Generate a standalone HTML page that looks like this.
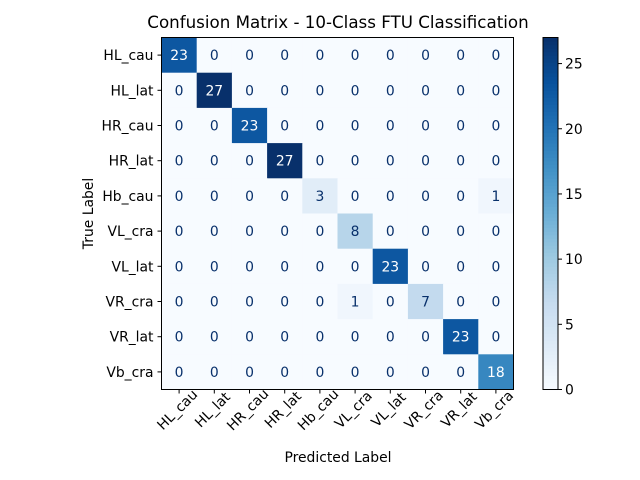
<!DOCTYPE html>
<html><head><meta charset="utf-8"><style>body{margin:0;background:#fff}svg{display:block;font-family:"DejaVu Sans","Liberation Sans",sans-serif}</style></head>
<body>
<svg id="c" width="640" height="480" xmlns="http://www.w3.org/2000/svg"></svg>
<script>
const classes = ["HL_cau","HL_lat","HR_cau","HR_lat","Hb_cau","VL_cra","VL_lat","VR_cra","VR_lat","Vb_cra"];
const matrix = [
[23,0,0,0,0,0,0,0,0,0],
[0,27,0,0,0,0,0,0,0,0],
[0,0,23,0,0,0,0,0,0,0],
[0,0,0,27,0,0,0,0,0,0],
[0,0,0,0,3,0,0,0,0,1],
[0,0,0,0,0,8,0,0,0,0],
[0,0,0,0,0,0,23,0,0,0],
[0,0,0,0,0,1,0,7,0,0],
[0,0,0,0,0,0,0,0,23,0],
[0,0,0,0,0,0,0,0,0,18]];
const cbarTicks = [0,5,10,15,20,25];
const svg = document.getElementById('c');
const NS = 'http://www.w3.org/2000/svg';
function mk(tag, attrs, parent){const e=document.createElementNS(NS,tag);for(const k in attrs)e.setAttribute(k,attrs[k]);(parent||svg).appendChild(e);return e;}
const stops=["#f7fbff","#deebf7","#c6dbef","#9ecae1","#6baed6","#4292c6","#2171b5","#08519c","#08306b"].map(h=>[1,3,5].map(i=>parseInt(h.substr(i,2),16)));
function blues(t){t=Math.max(0,Math.min(1,t));const p=t*8,i=Math.min(7,Math.floor(p)),f=p-i;const c=stops[i].map((v,k)=>Math.round(v+(stops[i+1][k]-v)*f));return `rgb(${c.join(',')})`;}
let vmax=0;matrix.forEach(r=>r.forEach(v=>{if(v>vmax)vmax=v;}));
const L=161.5,T=37.5,S=352,n=classes.length,cs=S/n;
const FS=13.9;
const xc=j=>L+(j+0.5)*cs, yc=i=>T+(i+0.5)*cs;
mk('text',{x:338,y:28,'text-anchor':'middle','font-size':16.7,fill:'#000'}).textContent='Confusion Matrix - 10-Class FTU Classification';


matrix.forEach((row,i)=>row.forEach((v,j)=>{
 const r=mk('rect',{x:L+j*cs,y:T+i*cs,width:cs+0.5,height:cs+0.5,fill:blues(v/vmax)});
 
 
 const t=mk('text',{x:xc(j),y:yc(i)+5,'text-anchor':'middle','font-size':FS,fill:v>vmax/2?'#fff':'#08306b'});
 t.textContent=v;
 
 
}));
mk('rect',{x:L,y:T,width:S,height:S,fill:'none',stroke:'#000','stroke-width':1});
classes.forEach((c,k)=>{
 mk('line',{x1:L,x2:L-4,y1:yc(k),y2:yc(k),stroke:'#000'});
 const yl=mk('text',{x:L-8,y:yc(k)+5,'text-anchor':'end','font-size':FS});yl.textContent=c;
 
 
 mk('line',{x1:xc(k),x2:xc(k),y1:T+S,y2:T+S+4,stroke:'#000'});
 const xl=mk('text',{x:0,y:5,'text-anchor':'middle','font-size':FS,transform:`translate(${xc(k)-2},${T+S+20}) rotate(-45)`});xl.textContent=c;
 
 
});
const xt=mk('text',{x:338,y:462,'text-anchor':'middle','font-size':FS});xt.textContent='Predicted Label';


const yt=mk('text',{x:0,y:0,'text-anchor':'middle','font-size':FS,transform:`translate(93,${T+S/2}) rotate(-90)`});yt.textContent='True Label';


const CX=543,CW=15,steps=100;
const g=mk('g',{});
for(let s=0;s<steps;s++){mk('rect',{x:CX,y:T+S-(s+1)*S/steps,width:CW,height:S/steps+0.6,fill:blues((s+0.5)/steps)},g);}
mk('rect',{x:CX,y:T,width:CW,height:S,fill:'none',stroke:'#000'},g);
cbarTicks.forEach(v=>{const y=T+S-v/vmax*S;mk('line',{x1:CX+CW,x2:CX+CW+4,y1:y,y2:y,stroke:'#000'},g);
 const t=mk('text',{x:CX+CW+7,y:y+5,'font-size':FS},g);t.textContent=v;
 
 });
</script>
</body></html>
